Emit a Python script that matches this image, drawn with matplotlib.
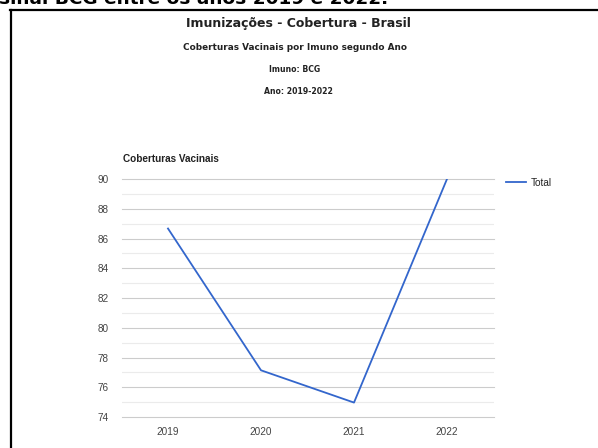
import matplotlib
matplotlib.use("Agg")
import matplotlib.pyplot as plt
from matplotlib.lines import Line2D

# Data
anos = ["2019", "2020", "2021", "2022"]
cobertura = [86.67, 77.14, 74.97, 90.0]
serie_nome = "Total"

W, H = 598, 448
fig = plt.figure(figsize=(W / 100, H / 100), dpi=100)
fig.patch.set_facecolor("white")


def fx(x):
    return x / W


def fy(y):
    return 1 - y / H


# cropped caption above the frame (only its lower part shows, as in the screenshot)
fig.text(fx(-1), fy(4), "sinal BCG entre os anos 2019 e 2022.", fontsize=13.3,
         family="DejaVu Sans", weight="bold", ha="left", va="baseline", color="black")

# frame of the screenshot
fig.add_artist(Line2D([fx(11), fx(11)], [fy(10), fy(H + 5)], color="black", lw=1.6))
fig.add_artist(Line2D([fx(10), fx(W + 5)], [fy(10), fy(10)], color="black", lw=1.6))

# headers
fig.text(fx(298), fy(23), "Imunizações - Cobertura - Brasil", fontsize=9,
         family="DejaVu Sans", weight="bold", ha="center", va="center", color="#222222")
fig.text(fx(295), fy(48), "Coberturas Vacinais por Imuno segundo Ano", fontsize=6.4,
         family="DejaVu Sans", weight="bold", ha="center", va="center", color="#222222")
fig.text(fx(295), fy(70), "Imuno: BCG", fontsize=5.6,
         family="DejaVu Sans", weight="bold", ha="center", va="center", color="#222222")
fig.text(fx(298), fy(92), "Ano: 2019-2022", fontsize=5.6,
         family="DejaVu Sans", weight="bold", ha="center", va="center", color="#222222")

# plot area
left, right, top, bottom = 121.5, 493.5, 179, 417
ax = fig.add_axes([fx(left), fy(bottom), (right - left) / W, (bottom - top) / H])
x = list(range(len(anos)))
ax.plot(x, cobertura, color="#3366cc", lw=1.3, label=serie_nome)
ax.set_xlim(-0.5, len(anos) - 0.5)
ax.set_ylim(74, 90)
ax.set_yticks(range(74, 91, 2))
ax.set_yticks(range(75, 90, 2), minor=True)
ax.set_xticks(x)
ax.set_xticklabels(anos)
ax.grid(axis="y", which="major", color="#cccccc", lw=0.8)
ax.grid(axis="y", which="minor", color="#ebebeb", lw=0.8)
for gl in ax.get_ygridlines():
    gl.set_clip_on(False)
ax.set_axisbelow(True)
for s in ax.spines.values():
    s.set_visible(False)
ax.tick_params(axis="both", which="both", length=0, labelsize=7.2, labelcolor="#444444")
ax.tick_params(axis="y", pad=9)
ax.tick_params(axis="x", pad=7)
for lab in ax.get_xticklabels() + ax.get_yticklabels():
    lab.set_family("Liberation Sans")

fig.text(fx(123), fy(159), "Coberturas Vacinais", fontsize=7.2, family="Liberation Sans",
         weight="bold", ha="left", va="center", color="#222222")

ax.legend(loc="center left", bbox_to_anchor=(fx(497), fy(183)), bbox_transform=fig.transFigure,
          frameon=False, handlelength=2.0, handletextpad=0.5,
          prop={"family": "Liberation Sans", "size": 7.2}, labelcolor="#222222")

fig.savefig("out.png", dpi=100, facecolor="white")
